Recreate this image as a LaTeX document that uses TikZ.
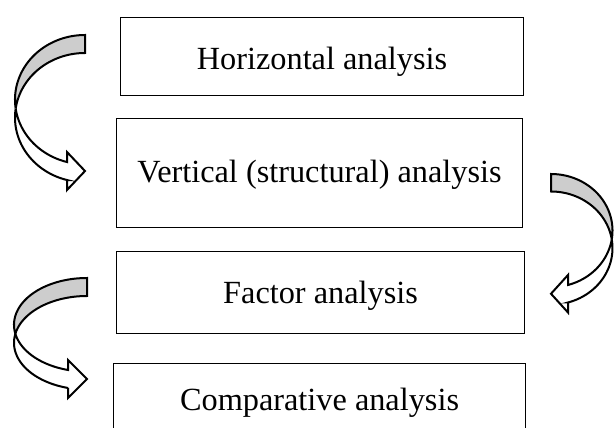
\documentclass[tikz,border=0pt]{standalone}
\usepackage{fontspec}
\setmainfont{Liberation Serif}

\definecolor{backgray}{RGB}{205,205,205}

\tikzset{
  stagebox/.style={draw=black, line width=1.1pt, rectangle, inner sep=0pt,
    anchor=north west, font=\fontsize{32.3}{38}\selectfont},
  bentline/.style={draw=black, line width=2pt, line join=miter, miter limit=10},
}

% Curved block arrow: two equal ellipses offset vertically by the band width.
% #1,#2 centre of the upper ellipse, #3,#4 radii, #5 band width,
% #6 head depth, #7 side (+1 body bulges left, -1 body bulges right)
\newcommand{\bentarrow}[7]{%
  \pgfmathsetmacro\arTa{180-asin(#5/(2*#4))}%
  \pgfmathsetmacro\arTb{180+asin(#5/(2*#4))}%
  \pgfmathsetmacro\arTz{acos(-#6/#3)}%
  \pgfmathsetmacro\arYa{#2+#4*sin(\arTz)}%
  \pgfmathsetmacro\arYb{\arYa+#5}%
  \pgfmathsetmacro\arXb{#1-#7*#6}%
  % back (shaded) part of the band
  \draw[bentline, fill=backgray]
    plot[domain=270:180, samples=50, variable=\u] ({#1+#7*#3*cos(\u)},{#2+#4*sin(\u)})
    -- plot[domain=180:\arTa, samples=10, variable=\u] ({#1+#7*#3*cos(\u)},{#2+#4*sin(\u)})
    -- plot[domain=\arTb:270, samples=50, variable=\u] ({#1+#7*#3*cos(\u)},{#2+#5+#4*sin(\u)})
    -- cycle;
  % front (white) part with the head
  \draw[bentline, fill=white]
    plot[domain=\arTa:\arTz, samples=50, variable=\u] ({#1+#7*#3*cos(\u)},{#2+#4*sin(\u)})
    -- (\arXb,{\arYa-10})
    -- (#1,{(\arYa+\arYb)/2})
    -- (\arXb,{\arYb+10})
    -- (\arXb,\arYb)
    -- plot[domain=\arTz:\arTb, samples=50, variable=\u] ({#1+#7*#3*cos(\u)},{#2+#5+#4*sin(\u)})
    -- cycle;
}

\begin{document}
\begin{tikzpicture}[x=1pt, y=-1pt]
  \useasboundingbox (0,0) rectangle (614,428);
  \clip (0,0) rectangle (614,428);

  % stages
  \node[stagebox, minimum width=403pt, text height=52pt, text depth=26pt]
    (horiz) at (120,17) {Horizontal analysis};
  \node[stagebox, minimum width=406pt, text height=64pt, text depth=45pt]
    (vert) at (116,118) {Vertical (structural) analysis};
  \node[stagebox, minimum width=408pt, text height=52pt, text depth=30pt]
    (factor) at (116,251) {Factor analysis};
  \node[stagebox, minimum width=412pt, text height=47pt, text depth=40pt]
    (comp) at (113,363) {Comparative analysis};

  % curved arrows between stages
  \bentarrow{85}{99.6}{70}{64.6}{18}{18}{1}
  \bentarrow{551}{230.6}{61.5}{56.6}{17.5}{17}{-1}
  \bentarrow{87}{324.8}{73}{46.8}{18}{19}{1}
\end{tikzpicture}
\end{document}
